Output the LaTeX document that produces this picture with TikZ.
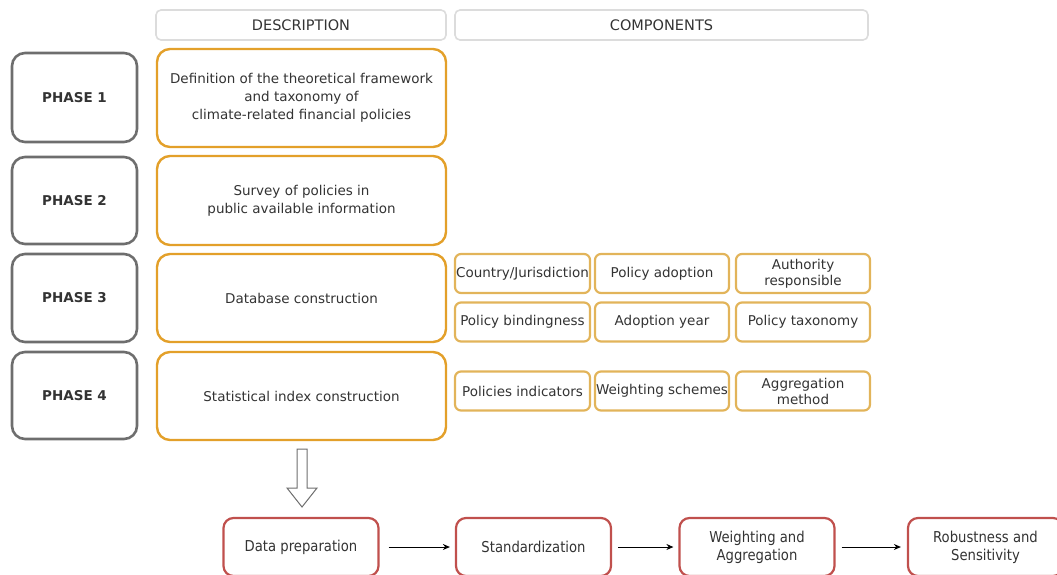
\documentclass[tikz,border=0pt]{standalone}
\usepackage{fontspec}
\setmainfont{DejaVu Sans}
\newfontfamily\condfont[FakeStretch=0.88]{DejaVu Sans}
\usetikzlibrary{arrows.meta}
\definecolor{phasegray}{HTML}{6E6E6E}
\definecolor{descorange}{HTML}{E3A02A}
\definecolor{comptan}{HTML}{E2B45A}
\definecolor{stepred}{HTML}{C0504D}
\definecolor{headgray}{HTML}{DCDCDC}
\definecolor{txt}{HTML}{333333}
\tikzset{
  box/.style={draw, rounded corners=#1, align=center, inner sep=0pt, text=txt},
  phasebox/.style={box=13pt, draw=phasegray, line width=2.6pt, minimum width=125pt, font=\fontsize{13.5}{16}\selectfont\bfseries},
  descbox/.style={box=13pt, draw=descorange, line width=2.4pt, minimum width=289pt, font=\fontsize{13.5}{18}\selectfont},
  headbox/.style={box=5pt, draw=headgray, line width=1.6pt, minimum width=#1, minimum height=30pt, font=\fontsize{14.5}{17}\selectfont},
  compbox/.style={box=6pt, draw=comptan, line width=2.2pt, minimum height=39pt, font=\fontsize{13.5}{16}\selectfont},
  stepbox/.style={box=10pt, draw=stepred, line width=2.2pt, minimum width=155pt, minimum height=58pt, font=\condfont\fontsize{15}{18}\selectfont},
  flow/.style={-{Stealth[length=7pt,width=6pt]}, line width=1pt, black},
}
\begin{document}
\begin{tikzpicture}[x=1pt,y=-1pt]
\clip (0,0) rectangle (1057,575);
\useasboundingbox (0,0) rectangle (1057,575);
% headers
\node[headbox=290pt] (hdesc) at (301,25) {DESCRIPTION};
\node[headbox=413pt] (hcomp) at (661.5,25) {COMPONENTS};
% phases
\node[phasebox, minimum height=89pt] (p1) at (74.5,97.5) {PHASE 1};
\node[phasebox, minimum height=87pt] (p2) at (74.5,200.5) {PHASE 2};
\node[phasebox, minimum height=88pt] (p3) at (74.5,298) {PHASE 3};
\node[phasebox, minimum height=87pt] (p4) at (74.5,395.5) {PHASE 4};
% descriptions
\node[descbox, minimum height=98pt] (d1) at (301.5,98) {Definition of the theoretical framework\\and taxonomy of\\climate-related financial policies};
\node[descbox, minimum height=89pt] (d2) at (301.5,200.5) {Survey of policies in\\public available information};
\node[descbox, minimum height=88pt] (d3) at (301.5,298) {Database construction};
\node[descbox, minimum height=88pt] (d4) at (301.5,396) {Statistical index construction};
% components
\node[compbox, minimum width=135pt] (c11) at (522.5,273.5) {Country/Jurisdiction};
\node[compbox, minimum width=134pt] (c12) at (662,273.5) {Policy adoption};
\node[compbox, minimum width=134pt] (c13) at (803,273.5) {Authority\\responsible};
\node[compbox, minimum width=135pt] (c21) at (522.5,322) {Policy bindingness};
\node[compbox, minimum width=134pt] (c22) at (662,322) {Adoption year};
\node[compbox, minimum width=134pt] (c23) at (803,322) {Policy taxonomy};
\node[compbox, minimum width=135pt] (c31) at (522.5,391) {Policies indicators};
\node[compbox, minimum width=134pt] (c32) at (662,391) {Weighting schemes};
\node[compbox, minimum width=134pt] (c33) at (803,391) {Aggregation\\method};
% hollow arrow
\draw[line width=1pt, draw=phasegray, fill=white] (297,449) -- (307,449) -- (307,488) -- (317,488) -- (302,507) -- (287,488) -- (297,488) -- cycle;
% steps
\node[stepbox] (s1) at (301,547) {Data preparation};
\node[stepbox] (s2) at (533.5,547) {Standardization};
\node[stepbox] (s3) at (757,547) {Weighting and\\Aggregation};
\node[stepbox] (s4) at (985.5,547) {Robustness and\\Sensitivity};
\draw[flow] ([xshift=9pt]s1.east) -- ([xshift=-5pt]s2.west);
\draw[flow] ([xshift=6pt]s2.east) -- ([xshift=-5pt]s3.west);
\draw[flow] ([xshift=6pt]s3.east) -- ([xshift=-6pt]s4.west);
\end{tikzpicture}
\end{document}
